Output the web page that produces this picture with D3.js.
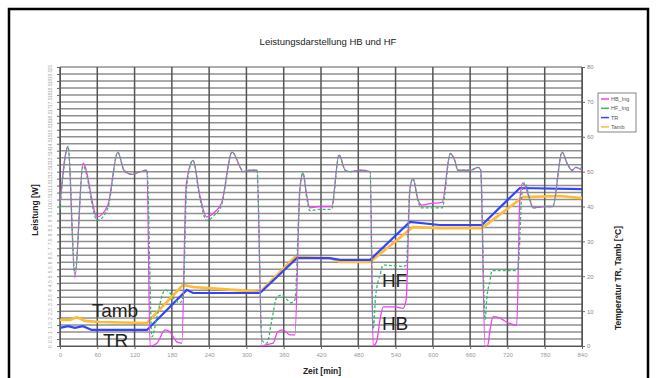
<!DOCTYPE html>
<html>
<head>
<meta charset="utf-8">
<script src="https://cdn.jsdelivr.net/npm/d3@7"></script>
<style>
  body { margin: 0; background: #fff; }
  svg { display: block; font-family: "Liberation Sans", Arial, sans-serif; }
</style>
</head>
<body>
<svg id="chart" width="656" height="378"></svg>
<script>
// ---- data ----
const timeTicks = [0, 60, 120, 180, 240, 300, 360, 420, 480, 540, 600, 660, 720, 780, 840];
const tempTicks = [0, 10, 20, 30, 40, 50, 60, 70, 80];
const powerTicks = [0, 0.5, 1, 1.5, 2, 2.5, 3, 3.5, 4, 4.5, 5, 5.5, 6, 6.5, 7, 7.5, 8, 8.5, 9, 9.5,
  10, 10.5, 11, 11.5, 12, 12.5, 13, 13.5, 14, 14.5, 15, 15.5, 16, 16.5, 17, 17.5, 18, 18.5, 19, 19.5, 20];

const seriesNames = ["HB_Ing", "HF_Ing", "TR", "Tamb"];

// [Zeit min, Leistung W]
const hbData = [[0,10.25],[13,14.3],[24,4.9],[37,13.1],[60,9.25],[77,10.1],[93,13.9],[103,12.6],[116,12.3],
  [129,12.5],[140,12.6],[145,0],[156,0.2],[169,1.15],[177,1.0],[188,0.3],[196,0.2],[203,11.5],[214,13.3],
  [225,10.8],[236,9.25],[249,9.6],[260,10.25],[277,13.9],[290,12.8],[294,12.5],[306,12.6],[317,12.6],
  [325,0],[333,0.1],[343,0.2],[350,1.0],[359,1.15],[370,0.8],[378,0.8],[386,11.2],[391,12.4],[397,10.8],
  [402,9.9],[418,10.0],[437,10.0],[449,13.7],[459,12.6],[467,12.5],[483,12.6],[499,12.5],[504,0],
  [510,0.4],[515,1.9],[520,2.8],[539,2.8],[552,2.7],[557,3.3],[563,11.2],[568,12.0],[576,10.5],[582,10.1],
  [595,10.2],[615,10.3],[628,13.8],[636,13.2],[640,12.6],[660,12.6],[673,12.8],[677,12.6],[684,0],[688,0],
  [692,1.15],[697,2.1],[708,2.0],[719,1.7],[735,1.5],[740,10.5],[745,11.7],[756,10.5],[761,9.9],[780,10.0],
  [793,10.0],[808,13.9],[816,13.1],[824,12.6],[830,12.8],[840,12.6]];

const hfData = [[0,9.8],[13,14.3],[24,5.2],[37,12.9],[60,9.0],[77,9.9],[93,13.9],[103,12.6],[116,12.3],
  [129,12.5],[140,12.6],[148,0.65],[156,2.1],[169,4.0],[177,3.8],[185,3.3],[193,3.1],[198,3.5],[204,11.5],
  [214,13.3],[225,10.6],[236,9.0],[249,9.4],[260,10.1],[277,13.9],[290,12.8],[294,12.5],[306,12.6],[317,12.6],
  [325,0.4],[333,0.2],[341,1.9],[349,3.5],[357,3.65],[366,3.3],[372,3.1],[378,3.3],[386,11.2],[391,12.4],
  [397,10.6],[402,9.7],[418,9.8],[437,9.8],[449,13.7],[459,12.6],[467,12.5],[483,12.6],[499,12.5],[504,1.2],
  [508,3.6],[515,5.1],[520,5.8],[539,5.75],[552,5.7],[557,5.8],[563,11.2],[568,12.0],[576,10.4],[582,9.9],
  [595,9.9],[615,9.9],[628,13.8],[636,13.2],[640,12.6],[660,12.6],[673,12.8],[677,12.6],[684,1.9],[687,3.5],
  [692,4.7],[695,5.4],[716,5.4],[735,5.4],[738,6.0],[743,10.8],[748,11.7],[756,10.5],[761,9.9],[780,10.0],
  [793,10.0],[808,13.9],[816,13.1],[824,12.6],[830,12.8],[840,12.75]];

// [Zeit min, Temperatur °C]
const trData = [[0,5.2],[13,5.7],[24,5.2],[37,5.7],[51,4.6],[80,4.6],[140,4.6],[204,16.1],[214,15.2],
  [322,15.2],[381,25.2],[434,25.2],[451,24.7],[499,24.7],[563,35.6],[611,34.7],[679,34.7],[740,45.3],[840,45.0]];

const tambData = [[0,7.45],[16,7.45],[27,8.3],[40,7.2],[64,6.9],[140,6.6],[198,17.5],[214,16.9],[262,16.3],
  [322,15.5],[378,25.5],[434,25.2],[451,24.1],[499,24.1],[568,34.1],[611,33.8],[679,33.8],[745,42.7],
  [805,43.0],[840,42.4]];

// labels written into the plot: [text, Zeit min, Temperatur °C]
const notes = [["Tamb", 51, 8.3], ["TR", 69, -0.3], ["HF", 518, 16.9], ["HB", 518, 4.6]];

// ---- layout ----
const svg = d3.select("#chart");
const plot = { left: 60, right: 582, top: 67, bottom: 346 };

const colors = { HB_Ing: "#f040f0", HF_Ing: "#33bb66", TR: "#3344ff", Tamb: "#ffbb33" };

const x = d3.scaleLinear().domain([0, 840]).range([plot.left, plot.right]);
const yPower = d3.scaleLinear().domain([0, 20]).range([plot.bottom, plot.top]);
const yTemp = d3.scaleLinear().domain([0, 80]).range([plot.bottom, plot.top]);

svg.append("rect").attr("width", 656).attr("height", 378).attr("fill", "#fff");

// outer frame
svg.append("rect")
  .attr("x", 9).attr("y", 9).attr("width", 639).attr("height", 380)
  .attr("fill", "none").attr("stroke", "#000").attr("stroke-width", 2.5);

// title
svg.append("text")
  .attr("x", 328).attr("y", 45)
  .attr("text-anchor", "middle")
  .style("font-size", "9.5px")
  .style("fill", "#222")
  .text("Leistungsdarstellung HB und HF");

// horizontal gridlines
svg.append("g")
  .selectAll("line")
  .data(powerTicks)
  .join("line")
  .attr("x1", plot.left).attr("x2", plot.right)
  .attr("y1", d => yPower(d)).attr("y2", d => yPower(d))
  .attr("stroke", "#8f8f8f").attr("stroke-width", 1.5);

// vertical gridlines
svg.append("g")
  .selectAll("line")
  .data(timeTicks)
  .join("line")
  .attr("x1", d => x(d)).attr("x2", d => x(d))
  .attr("y1", plot.top).attr("y2", plot.bottom)
  .attr("stroke", "#555").attr("stroke-width", 1.5);

// left axis
const leftAxis = svg.append("g")
  .attr("transform", `translate(${plot.left},0)`)
  .call(d3.axisLeft(yPower).tickValues(powerTicks).tickSize(3).tickFormat(d3.format("")));
leftAxis.select(".domain").attr("stroke", "#555");
leftAxis.selectAll(".tick line").attr("stroke", "#666");
leftAxis.selectAll("text")
  .attr("x", 0).attr("dy", 0)
  .attr("transform", "translate(-8,0) rotate(-90)")
  .attr("text-anchor", "middle")
  .style("font-size", "5px")
  .style("fill", "#aaa");

// right axis
const rightAxis = svg.append("g")
  .attr("transform", `translate(${plot.right},0)`)
  .call(d3.axisRight(yTemp).tickValues(tempTicks).tickSize(3));
rightAxis.select(".domain").attr("stroke", "#555");
rightAxis.selectAll(".tick line").attr("stroke", "#666");
rightAxis.selectAll("text")
  .attr("x", 5)
  .style("font-size", "6px")
  .style("fill", "#888");

// bottom axis
const bottomAxis = svg.append("g")
  .attr("transform", `translate(0,${plot.bottom})`)
  .call(d3.axisBottom(x).tickValues(timeTicks).tickSize(3));
bottomAxis.select(".domain").attr("stroke", "#555");
bottomAxis.selectAll(".tick line").attr("stroke", "#666");
bottomAxis.selectAll("text")
  .attr("y", 7)
  .style("font-size", "6px")
  .style("fill", "#999");

// axis titles
svg.append("text")
  .attr("transform", "translate(38,210) rotate(-90)")
  .attr("text-anchor", "middle")
  .style("font-size", "8.5px").style("font-weight", "bold").style("fill", "#222")
  .text("Leistung [W]");

svg.append("text")
  .attr("transform", "translate(621,278) rotate(-90)")
  .attr("text-anchor", "middle")
  .style("font-size", "8.5px").style("font-weight", "bold").style("fill", "#222")
  .text("Temperatur TR, Tamb [°C]");

svg.append("text")
  .attr("x", 322).attr("y", 374)
  .attr("text-anchor", "middle")
  .style("font-size", "8.5px").style("font-weight", "bold").style("fill", "#222")
  .text("Zeit [min]");

// lines
const powerLine = d3.line().curve(d3.curveMonotoneX).x(d => x(d[0])).y(d => yPower(d[1]));
const tempLine = d3.line().x(d => x(d[0])).y(d => yTemp(d[1]));

const lines = svg.append("g");

lines.append("path").datum(tambData)
  .attr("d", tempLine).attr("fill", "none")
  .attr("stroke", colors.Tamb).attr("stroke-width", 2.6);

lines.append("path").datum(trData)
  .attr("d", tempLine).attr("fill", "none")
  .attr("stroke", colors.TR).attr("stroke-width", 2.2);

lines.append("path").datum(hbData)
  .attr("d", powerLine).attr("fill", "none")
  .attr("stroke", colors.HB_Ing).attr("stroke-width", 1.3);

lines.append("path").datum(hfData)
  .attr("d", powerLine).attr("fill", "none")
  .attr("stroke", colors.HF_Ing).attr("stroke-width", 1.3)
  .attr("stroke-dasharray", "3,2");

// annotations
svg.append("g")
  .selectAll("text")
  .data(notes)
  .join("text")
  .attr("x", d => x(d[1]))
  .attr("y", d => yTemp(d[2]))
  .style("font-size", "19px")
  .style("fill", "#222")
  .text(d => d[0]);

// legend
const legend = svg.append("g").attr("transform", "translate(598,93)");
legend.append("rect")
  .attr("width", 38).attr("height", 39)
  .attr("fill", "#fff").attr("stroke", "#666").attr("stroke-width", 0.8);
const item = legend.selectAll(".item")
  .data(seriesNames)
  .join("g")
  .attr("class", "item")
  .attr("transform", (d, i) => `translate(0,${6 + i * 9.3})`);
item.append("line")
  .attr("x1", 3).attr("x2", 11)
  .attr("stroke", d => colors[d]).attr("stroke-width", 1.5);
item.append("text")
  .attr("x", 13).attr("dy", "0.35em")
  .style("font-size", "5.5px").style("fill", "#555")
  .text(d => d);
</script>
</body>
</html>
